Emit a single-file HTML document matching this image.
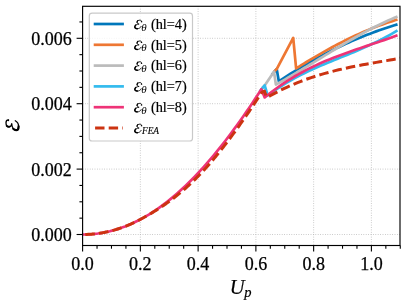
<!DOCTYPE html>
<html><head><meta charset="utf-8"><title>Chart</title>
<style>html,body{margin:0;padding:0;background:#fff;width:406px;height:307px;overflow:hidden}</style>
</head><body>
<svg width="406" height="307" viewBox="0 0 406 307" style="position:absolute;left:0;top:0;will-change:transform">
<defs><clipPath id="ax"><rect x="82.6" y="6.3" width="317.4" height="239.2"/></clipPath></defs>
<rect x="0" y="0" width="406" height="307" fill="#fff"/>
<g stroke="#b0b0b0" stroke-width="0.8" stroke-dasharray="0.8 1.6" fill="none"><line x1="140.36" x2="140.36" y1="6.3" y2="245.5"/><line x1="198.12" x2="198.12" y1="6.3" y2="245.5"/><line x1="255.88" x2="255.88" y1="6.3" y2="245.5"/><line x1="313.64" x2="313.64" y1="6.3" y2="245.5"/><line x1="371.40" x2="371.40" y1="6.3" y2="245.5"/><line y1="234.50" y2="234.50" x1="82.6" x2="400.0"/><line y1="169.10" y2="169.10" x1="82.6" x2="400.0"/><line y1="103.70" y2="103.70" x1="82.6" x2="400.0"/><line y1="38.30" y2="38.30" x1="82.6" x2="400.0"/></g>
<g clip-path="url(#ax)" fill="none" stroke-linejoin="round">
<path d="M271.76,74.92 L276.70,69.04 L278.81,81.27 L281.85,79.27 L284.90,77.29 L287.94,75.35 L290.98,73.43 L294.03,71.55 L297.07,69.69 L300.12,67.86 L303.16,66.06 L306.20,64.28 L309.25,62.54 L312.29,60.82 L315.33,59.13 L318.38,57.47 L321.42,55.84 L324.46,54.24 L327.51,52.67 L330.55,51.12 L333.59,49.61 L336.64,48.12 L339.68,46.66 L342.72,45.23 L345.77,43.83 L348.81,42.45 L351.85,41.11 L354.90,39.79 L357.94,38.50 L360.99,37.25 L364.03,36.02 L367.07,34.81 L370.12,33.64 L373.16,32.50 L376.20,31.38 L379.25,30.30 L382.29,29.24 L385.33,28.21 L388.38,27.21 L391.42,26.24 L394.46,25.30 L397.51,24.38" stroke="#0077BB" stroke-width="2.7"/>
<path d="M273.99,71.65 L276.70,69.04 L293.22,37.97 L296.11,68.48 L298.71,66.84 L301.31,65.22 L303.91,63.61 L306.51,62.02 L309.11,60.44 L311.71,58.88 L314.31,57.34 L316.91,55.82 L319.51,54.31 L322.11,52.82 L324.71,51.35 L327.31,49.89 L329.91,48.46 L332.51,47.05 L335.11,45.66 L337.71,44.29 L340.31,42.94 L342.91,41.61 L345.51,40.30 L348.11,39.02 L350.71,37.76 L353.31,36.53 L355.91,35.31 L358.51,34.13 L361.11,32.96 L363.71,31.83 L366.31,30.72 L368.91,29.63 L371.51,28.57 L374.11,27.54 L376.71,26.54 L379.31,25.57 L381.91,24.62 L384.51,23.70 L387.11,22.81 L389.71,21.96 L392.31,21.13 L394.91,20.33 L397.51,19.57" stroke="#EE7733" stroke-width="2.7"/>
<path d="M262.23,88.00 L264.69,85.39 L273.99,71.65 L275.89,84.58 L279.01,82.86 L282.13,81.11 L285.25,79.33 L288.37,77.53 L291.49,75.71 L294.60,73.87 L297.72,72.02 L300.84,70.15 L303.96,68.27 L307.08,66.38 L310.20,64.49 L313.31,62.58 L316.43,60.68 L319.55,58.77 L322.67,56.86 L325.79,54.95 L328.90,53.05 L332.02,51.16 L335.14,49.27 L338.26,47.39 L341.38,45.53 L344.50,43.68 L347.61,41.85 L350.73,40.04 L353.85,38.25 L356.97,36.48 L360.09,34.74 L363.21,33.03 L366.32,31.34 L369.44,29.68 L372.56,28.06 L375.68,26.48 L378.80,24.93 L381.92,23.42 L385.03,21.95 L388.15,20.53 L391.27,19.15 L394.39,17.83 L397.51,16.55" stroke="#BBBBBB" stroke-width="2.7"/>
<path d="M259.57,92.08 L260.47,90.69 L261.37,89.29 L264.69,85.39 L267.72,95.52 L271.05,93.06 L274.38,90.70 L277.70,88.44 L281.03,86.27 L284.36,84.19 L287.69,82.19 L291.02,80.27 L294.34,78.41 L297.67,76.63 L301.00,74.91 L304.33,73.24 L307.66,71.63 L310.98,70.07 L314.31,68.54 L317.64,67.06 L320.97,65.61 L324.29,64.19 L327.62,62.79 L330.95,61.42 L334.28,60.05 L337.61,58.70 L340.93,57.35 L344.26,56.00 L347.59,54.64 L350.92,53.27 L354.25,51.89 L357.57,50.49 L360.90,49.06 L364.23,47.61 L367.56,46.12 L370.88,44.59 L374.21,43.02 L377.54,41.39 L380.87,39.72 L384.20,37.98 L387.52,36.19 L390.85,34.32 L394.18,32.38 L397.51,30.36" stroke="#33BBEE" stroke-width="2.7"/>
<path d="M82.60,234.50 L85.63,234.46 L88.66,234.34 L91.69,234.14 L94.72,233.86 L97.75,233.49 L100.78,233.05 L103.81,232.52 L106.84,231.91 L109.87,231.21 L112.90,230.43 L115.93,229.56 L118.96,228.60 L121.99,227.57 L125.02,226.44 L128.05,225.23 L131.08,223.93 L134.11,222.54 L137.14,221.07 L140.17,219.51 L143.20,217.86 L146.23,216.13 L149.26,214.31 L152.29,212.40 L155.32,210.40 L158.35,208.32 L161.38,206.15 L164.41,203.89 L167.44,201.55 L170.47,199.12 L173.50,196.61 L176.53,194.01 L179.56,191.32 L182.59,188.55 L185.62,185.70 L188.65,182.76 L191.68,179.74 L194.71,176.64 L197.74,173.46 L200.77,170.19 L203.80,166.85 L206.83,163.42 L209.86,159.92 L212.89,156.34 L215.92,152.68 L218.95,148.95 L221.98,145.14 L225.01,141.25 L228.04,137.30 L231.07,133.27 L234.10,129.17 L237.13,125.00 L240.16,120.76 L243.19,116.46 L246.22,112.09 L249.25,107.65 L252.28,103.15 L255.31,98.59 L258.34,93.97 L261.37,89.29 L264.69,97.46 L268.09,94.69 L271.50,92.02 L274.91,89.46 L278.31,87.00 L281.72,84.63 L285.12,82.35 L288.53,80.16 L291.93,78.05 L295.34,76.03 L298.74,74.08 L302.15,72.20 L305.56,70.40 L308.96,68.66 L312.37,66.98 L315.77,65.37 L319.18,63.81 L322.58,62.30 L325.99,60.84 L329.40,59.43 L332.80,58.06 L336.21,56.73 L339.61,55.43 L343.02,54.16 L346.42,52.92 L349.83,51.71 L353.23,50.52 L356.64,49.34 L360.05,48.18 L363.45,47.02 L366.86,45.88 L370.26,44.74 L373.67,43.59 L377.07,42.44 L380.48,41.29 L383.89,40.12 L387.29,38.94 L390.70,37.75 L394.10,36.53 L397.51,35.28" stroke="#EE3377" stroke-width="2.7"/>
<path d="M85.30,234.47 L86.20,234.44 L87.10,234.41 L88.00,234.37 L88.90,234.33 L89.80,234.27 L90.70,234.21 L91.60,234.15 L92.50,234.07 L93.40,233.99 L94.30,233.90 L95.20,233.81 L96.10,233.70 L97.00,233.59 L97.90,233.48 L98.80,233.35 L99.70,233.22 L100.60,233.08 L101.50,232.93 L102.40,232.78 L103.29,232.61 L104.19,232.45 L105.09,232.27 L105.99,232.09 L106.89,231.89 L107.79,231.69 L108.69,231.49 L109.59,231.27 L110.49,231.05 L111.39,230.82 L112.29,230.59 L113.19,230.35 L114.09,230.09 L114.99,229.84 L115.89,229.57 L116.79,229.30 L117.69,229.01 L118.59,228.72 L119.49,228.43 L120.39,228.12 L121.29,227.81 L122.19,227.49 L123.09,227.17 L123.99,226.83 L124.89,226.49 L125.79,226.14 L126.69,225.78 L127.59,225.42 L128.49,225.04 L129.39,224.66 L130.29,224.28 L131.19,223.88 L132.09,223.48 L132.99,223.07 L133.89,222.65 L134.79,222.22 L135.69,221.79 L136.59,221.35 L137.49,220.90 L138.39,220.44 L139.29,219.97 L140.19,219.50 L141.09,219.02 L141.99,218.54 L142.89,218.05 L143.78,217.56 L144.68,217.06 L145.58,216.56 L146.48,216.05 L147.38,215.54 L148.28,215.02 L149.18,214.50 L150.08,213.98 L150.98,213.44 L151.88,212.91 L152.78,212.36 L153.68,211.81 L154.58,211.26 L155.48,210.70 L156.38,210.14 L157.28,209.56 L158.18,208.99 L159.08,208.40 L159.98,207.82 L160.88,207.22 L161.78,206.62 L162.68,206.01 L163.58,205.40 L164.48,204.78 L165.38,204.15 L166.28,203.52 L167.18,202.88 L168.08,202.23 L168.98,201.58 L169.88,200.92 L170.78,200.25 L171.68,199.57 L172.58,198.89 L173.48,198.20 L174.38,197.51 L175.28,196.80 L176.18,196.09 L177.08,195.37 L177.98,194.65 L178.88,193.91 L179.78,193.17 L180.68,192.42 L181.58,191.67 L182.48,190.90 L183.38,190.13 L184.28,189.35 L185.17,188.56 L186.07,187.76 L186.97,186.96 L187.87,186.15 L188.77,185.32 L189.67,184.49 L190.57,183.66 L191.47,182.81 L192.37,181.95 L193.27,181.09 L194.17,180.21 L195.07,179.33 L195.97,178.44 L196.87,177.54 L197.77,176.63 L198.67,175.71 L199.57,174.78 L200.47,173.85 L201.37,172.90 L202.27,171.94 L203.17,170.98 L204.07,170.00 L204.97,169.02 L205.87,168.03 L206.77,167.02 L207.67,166.01 L208.57,164.99 L209.47,163.95 L210.37,162.91 L211.27,161.86 L212.17,160.79 L213.07,159.72 L213.97,158.64 L214.87,157.56 L215.77,156.46 L216.67,155.36 L217.57,154.26 L218.47,153.14 L219.37,152.02 L220.27,150.90 L221.17,149.76 L222.07,148.62 L222.97,147.48 L223.87,146.32 L224.77,145.17 L225.66,144.00 L226.56,142.83 L227.46,141.65 L228.36,140.46 L229.26,139.27 L230.16,138.08 L231.06,136.87 L231.96,135.66 L232.86,134.45 L233.76,133.22 L234.66,132.00 L235.56,130.76 L236.46,129.52 L237.36,128.27 L238.26,127.02 L239.16,125.76 L240.06,124.50 L240.96,123.23 L241.86,121.95 L242.76,120.67 L243.66,119.38 L244.56,118.08 L245.46,116.78 L246.36,115.48 L247.26,114.17 L248.16,112.85 L249.06,111.53 L249.96,110.20 L250.86,108.87 L251.76,107.53 L252.66,106.18 L253.56,104.83 L254.46,103.48 L255.36,102.11 L256.26,100.75 L257.16,99.38 L258.06,98.00 L258.96,96.62 L259.86,95.23 L260.76,93.84 L261.66,92.44 L264.40,90.95 L266.71,97.76" stroke="#CC3311" stroke-width="3" stroke-dasharray="9.55 4.2"/>
<path d="M266.71,97.76 L270.13,95.78 L273.56,93.89 L276.98,92.06 L280.41,90.32 L283.83,88.64 L287.26,87.04 L290.68,85.50 L294.11,84.03 L297.53,82.63 L300.96,81.28 L304.38,79.99 L307.81,78.76 L311.23,77.59 L314.66,76.46 L318.08,75.38 L321.51,74.35 L324.93,73.37 L328.36,72.43 L331.78,71.53 L335.21,70.66 L338.63,69.83 L342.06,69.04 L345.48,68.27 L348.91,67.53 L352.33,66.82 L355.76,66.13 L359.18,65.46 L362.61,64.82 L366.03,64.18 L369.46,63.57 L372.88,62.96 L376.31,62.36 L379.73,61.77 L383.16,61.19 L386.58,60.61 L390.01,60.03 L393.43,59.44 L396.86,58.85 L400.28,58.26" stroke="#CC3311" stroke-width="3" stroke-dasharray="9.5 4.2" stroke-dashoffset="11.0"/>
</g>
<g stroke="#000" stroke-width="1.1" fill="none"><line x1="82.60" x2="82.60" y1="245.5" y2="251.5"/><line x1="97.04" x2="97.04" y1="245.5" y2="248.7"/><line x1="111.48" x2="111.48" y1="245.5" y2="248.7"/><line x1="125.92" x2="125.92" y1="245.5" y2="248.7"/><line x1="140.36" x2="140.36" y1="245.5" y2="251.5"/><line x1="154.80" x2="154.80" y1="245.5" y2="248.7"/><line x1="169.24" x2="169.24" y1="245.5" y2="248.7"/><line x1="183.68" x2="183.68" y1="245.5" y2="248.7"/><line x1="198.12" x2="198.12" y1="245.5" y2="251.5"/><line x1="212.56" x2="212.56" y1="245.5" y2="248.7"/><line x1="227.00" x2="227.00" y1="245.5" y2="248.7"/><line x1="241.44" x2="241.44" y1="245.5" y2="248.7"/><line x1="255.88" x2="255.88" y1="245.5" y2="251.5"/><line x1="270.32" x2="270.32" y1="245.5" y2="248.7"/><line x1="284.76" x2="284.76" y1="245.5" y2="248.7"/><line x1="299.20" x2="299.20" y1="245.5" y2="248.7"/><line x1="313.64" x2="313.64" y1="245.5" y2="251.5"/><line x1="328.08" x2="328.08" y1="245.5" y2="248.7"/><line x1="342.52" x2="342.52" y1="245.5" y2="248.7"/><line x1="356.96" x2="356.96" y1="245.5" y2="248.7"/><line x1="371.40" x2="371.40" y1="245.5" y2="251.5"/><line x1="385.84" x2="385.84" y1="245.5" y2="248.7"/><line x1="400.28" x2="400.28" y1="245.5" y2="248.7"/><line y1="234.50" y2="234.50" x1="82.6" x2="76.6"/><line y1="218.15" y2="218.15" x1="82.6" x2="79.39999999999999"/><line y1="201.80" y2="201.80" x1="82.6" x2="79.39999999999999"/><line y1="185.45" y2="185.45" x1="82.6" x2="79.39999999999999"/><line y1="169.10" y2="169.10" x1="82.6" x2="76.6"/><line y1="152.75" y2="152.75" x1="82.6" x2="79.39999999999999"/><line y1="136.40" y2="136.40" x1="82.6" x2="79.39999999999999"/><line y1="120.05" y2="120.05" x1="82.6" x2="79.39999999999999"/><line y1="103.70" y2="103.70" x1="82.6" x2="76.6"/><line y1="87.35" y2="87.35" x1="82.6" x2="79.39999999999999"/><line y1="71.00" y2="71.00" x1="82.6" x2="79.39999999999999"/><line y1="54.65" y2="54.65" x1="82.6" x2="79.39999999999999"/><line y1="38.30" y2="38.30" x1="82.6" x2="76.6"/><line y1="21.95" y2="21.95" x1="82.6" x2="79.39999999999999"/></g>
<rect x="82.6" y="6.3" width="317.4" height="239.2" fill="none" stroke="#000" stroke-width="1.15"/>
<g font-family="Liberation Serif, serif" font-size="18px" fill="#000" stroke="#000" stroke-width="0.25">
<text x="82.60" y="270.2" text-anchor="middle">0.0</text>
<text x="140.36" y="270.2" text-anchor="middle">0.2</text>
<text x="198.12" y="270.2" text-anchor="middle">0.4</text>
<text x="255.88" y="270.2" text-anchor="middle">0.6</text>
<text x="313.64" y="270.2" text-anchor="middle">0.8</text>
<text x="371.40" y="270.2" text-anchor="middle">1.0</text>
<text x="71.8" y="241.20" text-anchor="end">0.000</text>
<text x="71.8" y="175.80" text-anchor="end">0.002</text>
<text x="71.8" y="110.40" text-anchor="end">0.004</text>
<text x="71.8" y="45.00" text-anchor="end">0.006</text>
</g>
<rect x="89.3" y="13.2" width="103.2" height="127.8" rx="2.8" ry="2.8" fill="#fff" fill-opacity="0.8" stroke="#c9c9c9" stroke-width="1.2"/>
<line x1="93.7" x2="123.9" y1="24.0" y2="24.0" stroke="#0077BB" stroke-width="2.7"/>
<g transform="translate(134.3,28.6) scale(0.1270)" fill="none" stroke="#000" stroke-linecap="round" stroke-linejoin="round"><path d="M59,-53 C59,-62 52,-66.5 44,-66.5 C32,-66.5 22,-60 22,-50 C22,-42 28,-37 38,-36 C21,-35 4,-26 4,-13 C4,-4 12,0.5 24,0.5 C37,0.5 48,-6 54,-17" stroke-width="7"/><path d="M11,-28 C6,-23 4,-18 4,-13 C4,-4 12,0.5 24,0.5" stroke-width="11.5"/><path d="M27,-63 C23,-59 22,-55 22,-50" stroke-width="9.5"/><circle cx="56" cy="-54.5" r="5" fill="#000" stroke="none"/></g>
<text x="141.3" y="30.6" font-family="Liberation Serif, serif" font-size="11px" font-style="italic">θ</text>
<text x="150.9" y="28.7" font-family="Liberation Serif, serif" font-size="14.3px" stroke="#000" stroke-width="0.2">(hl=4)</text>
<line x1="93.7" x2="123.9" y1="44.8" y2="44.8" stroke="#EE7733" stroke-width="2.7"/>
<g transform="translate(134.3,49.4) scale(0.1270)" fill="none" stroke="#000" stroke-linecap="round" stroke-linejoin="round"><path d="M59,-53 C59,-62 52,-66.5 44,-66.5 C32,-66.5 22,-60 22,-50 C22,-42 28,-37 38,-36 C21,-35 4,-26 4,-13 C4,-4 12,0.5 24,0.5 C37,0.5 48,-6 54,-17" stroke-width="7"/><path d="M11,-28 C6,-23 4,-18 4,-13 C4,-4 12,0.5 24,0.5" stroke-width="11.5"/><path d="M27,-63 C23,-59 22,-55 22,-50" stroke-width="9.5"/><circle cx="56" cy="-54.5" r="5" fill="#000" stroke="none"/></g>
<text x="141.3" y="51.4" font-family="Liberation Serif, serif" font-size="11px" font-style="italic">θ</text>
<text x="150.9" y="49.5" font-family="Liberation Serif, serif" font-size="14.3px" stroke="#000" stroke-width="0.2">(hl=5)</text>
<line x1="93.7" x2="123.9" y1="65.6" y2="65.6" stroke="#BBBBBB" stroke-width="2.7"/>
<g transform="translate(134.3,70.19999999999999) scale(0.1270)" fill="none" stroke="#000" stroke-linecap="round" stroke-linejoin="round"><path d="M59,-53 C59,-62 52,-66.5 44,-66.5 C32,-66.5 22,-60 22,-50 C22,-42 28,-37 38,-36 C21,-35 4,-26 4,-13 C4,-4 12,0.5 24,0.5 C37,0.5 48,-6 54,-17" stroke-width="7"/><path d="M11,-28 C6,-23 4,-18 4,-13 C4,-4 12,0.5 24,0.5" stroke-width="11.5"/><path d="M27,-63 C23,-59 22,-55 22,-50" stroke-width="9.5"/><circle cx="56" cy="-54.5" r="5" fill="#000" stroke="none"/></g>
<text x="141.3" y="72.19999999999999" font-family="Liberation Serif, serif" font-size="11px" font-style="italic">θ</text>
<text x="150.9" y="70.3" font-family="Liberation Serif, serif" font-size="14.3px" stroke="#000" stroke-width="0.2">(hl=6)</text>
<line x1="93.7" x2="123.9" y1="86.4" y2="86.4" stroke="#33BBEE" stroke-width="2.7"/>
<g transform="translate(134.3,91.0) scale(0.1270)" fill="none" stroke="#000" stroke-linecap="round" stroke-linejoin="round"><path d="M59,-53 C59,-62 52,-66.5 44,-66.5 C32,-66.5 22,-60 22,-50 C22,-42 28,-37 38,-36 C21,-35 4,-26 4,-13 C4,-4 12,0.5 24,0.5 C37,0.5 48,-6 54,-17" stroke-width="7"/><path d="M11,-28 C6,-23 4,-18 4,-13 C4,-4 12,0.5 24,0.5" stroke-width="11.5"/><path d="M27,-63 C23,-59 22,-55 22,-50" stroke-width="9.5"/><circle cx="56" cy="-54.5" r="5" fill="#000" stroke="none"/></g>
<text x="141.3" y="93.0" font-family="Liberation Serif, serif" font-size="11px" font-style="italic">θ</text>
<text x="150.9" y="91.10000000000001" font-family="Liberation Serif, serif" font-size="14.3px" stroke="#000" stroke-width="0.2">(hl=7)</text>
<line x1="93.7" x2="123.9" y1="107.2" y2="107.2" stroke="#EE3377" stroke-width="2.7"/>
<g transform="translate(134.3,111.8) scale(0.1270)" fill="none" stroke="#000" stroke-linecap="round" stroke-linejoin="round"><path d="M59,-53 C59,-62 52,-66.5 44,-66.5 C32,-66.5 22,-60 22,-50 C22,-42 28,-37 38,-36 C21,-35 4,-26 4,-13 C4,-4 12,0.5 24,0.5 C37,0.5 48,-6 54,-17" stroke-width="7"/><path d="M11,-28 C6,-23 4,-18 4,-13 C4,-4 12,0.5 24,0.5" stroke-width="11.5"/><path d="M27,-63 C23,-59 22,-55 22,-50" stroke-width="9.5"/><circle cx="56" cy="-54.5" r="5" fill="#000" stroke="none"/></g>
<text x="141.3" y="113.8" font-family="Liberation Serif, serif" font-size="11px" font-style="italic">θ</text>
<text x="150.9" y="111.9" font-family="Liberation Serif, serif" font-size="14.3px" stroke="#000" stroke-width="0.2">(hl=8)</text>
<line x1="95.1" x2="122.9" y1="128.1" y2="128.1" stroke="#CC3311" stroke-width="3" stroke-dasharray="9.4 4.2"/>
<g transform="translate(134.3,132.6) scale(0.1270)" fill="none" stroke="#000" stroke-linecap="round" stroke-linejoin="round"><path d="M59,-53 C59,-62 52,-66.5 44,-66.5 C32,-66.5 22,-60 22,-50 C22,-42 28,-37 38,-36 C21,-35 4,-26 4,-13 C4,-4 12,0.5 24,0.5 C37,0.5 48,-6 54,-17" stroke-width="7"/><path d="M11,-28 C6,-23 4,-18 4,-13 C4,-4 12,0.5 24,0.5" stroke-width="11.5"/><path d="M27,-63 C23,-59 22,-55 22,-50" stroke-width="9.5"/><circle cx="56" cy="-54.5" r="5" fill="#000" stroke="none"/></g>
<text x="142.0" y="133.6" font-family="Liberation Serif, serif" font-size="9.3px" font-style="italic" stroke="#000" stroke-width="0.15">FEA</text>
<text x="229.7" y="293.6" font-family="Liberation Serif, serif" font-style="italic" font-size="20.5px" stroke="#000" stroke-width="0.2">U<tspan font-size="14.5px" dy="3.5" dx="-0.3">p</tspan></text>
<g transform="translate(18.5,130.9) rotate(-90) scale(0.1880)" fill="none" stroke="#000" stroke-linecap="round" stroke-linejoin="round"><path d="M59,-53 C59,-62 52,-66.5 44,-66.5 C32,-66.5 22,-60 22,-50 C22,-42 28,-37 38,-36 C21,-35 4,-26 4,-13 C4,-4 12,0.5 24,0.5 C37,0.5 48,-6 54,-17" stroke-width="7"/><path d="M11,-28 C6,-23 4,-18 4,-13 C4,-4 12,0.5 24,0.5" stroke-width="11.5"/><path d="M27,-63 C23,-59 22,-55 22,-50" stroke-width="9.5"/><circle cx="56" cy="-54.5" r="5" fill="#000" stroke="none"/></g>
</svg>
</body></html>
